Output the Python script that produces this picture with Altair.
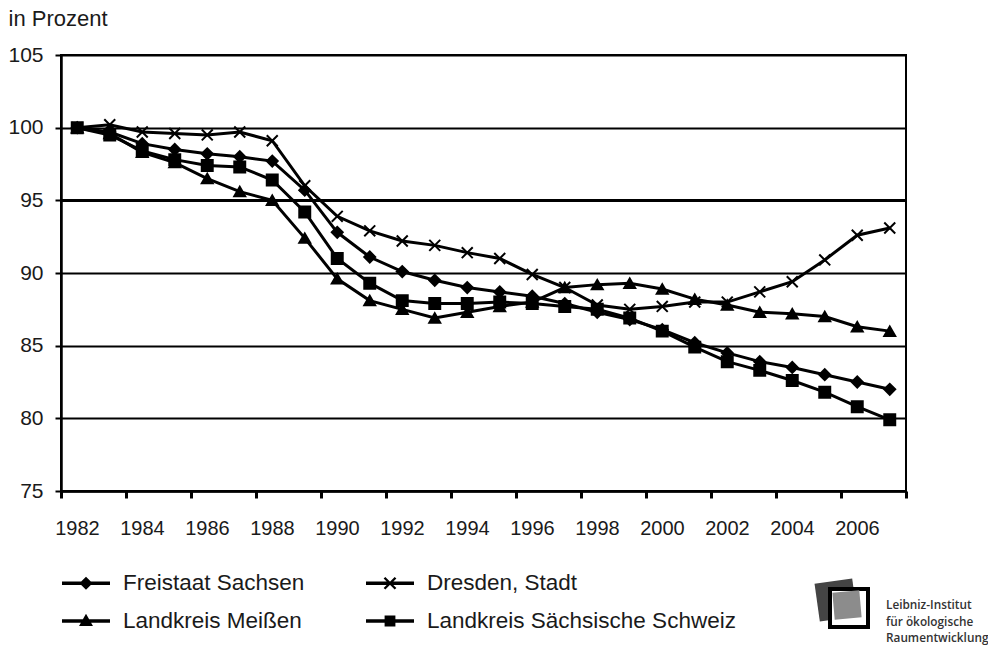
import altair as alt
import pandas as pd

years = list(range(1982, 2008))
series = ["Freistaat Sachsen", "Dresden, Stadt", "Landkreis Meißen", "Landkreis Sächsische Schweiz"]
legend_order = ["Freistaat Sachsen", "Landkreis Meißen", "Dresden, Stadt", "Landkreis Sächsische Schweiz"]

freistaat = [100, 99.7, 98.9, 98.5, 98.2, 98.0, 97.7, 95.7, 92.8, 91.1, 90.1, 89.5, 89.0,
             88.7, 88.4, 87.9, 87.3, 86.8, 86.1, 85.2, 84.5, 83.9, 83.5, 83.0, 82.5, 82.0]
dresden = [100, 100.2, 99.7, 99.6, 99.5, 99.7, 99.1, 96.0, 93.9, 92.9, 92.2, 91.9, 91.4,
           91.0, 89.9, 89.0, 87.8, 87.5, 87.7, 88.0, 88.0, 88.7, 89.4, 90.9, 92.6, 93.1]
meissen = [100, 99.6, 98.3, 97.6, 96.5, 95.6, 95.0, 92.4, 89.6, 88.1, 87.5, 86.9, 87.3,
           87.7, 88.0, 89.0, 89.2, 89.3, 88.9, 88.2, 87.8, 87.3, 87.2, 87.0, 86.3, 86.0]
schweiz = [100, 99.5, 98.4, 97.8, 97.4, 97.3, 96.4, 94.2, 91.0, 89.3, 88.1, 87.9, 87.9,
           88.0, 87.9, 87.7, 87.5, 86.9, 86.0, 84.9, 83.9, 83.3, 82.6, 81.8, 80.8, 79.9]

y_ticks = [75, 80, 85, 90, 95, 100, 105]
x_tick_values = [1981.5 + 2 * i for i in range(14)]  # band boundaries, every 2 years
logo_text_lines = "Leibniz-Institut\nfür ökologische\nRaumentwicklung"

rows = []
for name, vals in zip(series, [freistaat, dresden, meissen, schweiz]):
    for yr, v in zip(years, vals):
        rows.append({"year": yr, "series": name, "value": v})
df = pd.DataFrame(rows)

FONT = "Liberation Sans"
TXT = "#1a1a1a"

x_enc = alt.X(
    "year:Q",
    scale=alt.Scale(domain=[1981.5, 2007.5], nice=False, zero=False),
    axis=alt.Axis(
        values=x_tick_values,
        labelExpr="datum.value > 2007 ? '' : format(datum.value + 0.5, 'd')",
        labelOffset=16, labelFlush=False, labelOverlap=False,
        labelFont=FONT, labelFontSize=20, labelColor=TXT, labelPadding=20,
        tickSize=7, tickWidth=3, tickColor="black",
        domainColor="black", domainWidth=2.5,
        grid=False, title=None, orient="bottom",
    ),
)
y_enc = alt.Y(
    "value:Q",
    scale=alt.Scale(domain=[75, 105], nice=False, zero=False),
    axis=alt.Axis(
        values=y_ticks,
        labelFont=FONT, labelFontSize=21, labelColor=TXT, labelPadding=12,
        tickSize=6, tickWidth=2, tickColor="black",
        domainColor="black", domainWidth=2.5,
        grid=True, gridColor="black",
        gridWidth={"condition": {"test": "datum.value === 95", "value": 3}, "value": 2},
        title="in Prozent", titleFont=FONT, titleFontSize=22, titleColor=TXT,
        titleFontWeight="normal", titleAngle=0, titleAlign="left",
        titleBaseline="middle", titleX=-53, titleY=-37,
    ),
)

base = alt.Chart(df)

lines = base.mark_line(color="black", strokeWidth=3).encode(
    x=x_enc, y=y_enc, detail="series:N", order="year:Q"
)

xpath = "M-1,-1L1,1M-1,1L1,-1"
points = base.mark_point(filled=True, fill="black", stroke="black", strokeWidth=2, opacity=1, size=120).encode(
    x="year:Q", y="value:Q",
    shape=alt.Shape("series:N", scale=alt.Scale(domain=series,
                    range=["diamond", xpath, "triangle-up", "square"]), legend=None),
)

# legend symbols: filled polygons (line segment + marker), same winding everywhere
LINE = "M-3,-0.15H1V0.15H-3Z"
DIAMOND = LINE + "M-1,-0.55L-0.45,0L-1,0.55L-1.55,0Z"
XMARK = (LINE + "M-1.53,-0.39L-1.39,-0.53L-0.47,0.39L-0.61,0.53Z"
         + "M-1.53,0.39L-0.61,-0.53L-0.47,-0.39L-1.39,0.53Z")
TRIANGLE = LINE + "M-1,-0.6L-0.42,0.42H-1.58Z"
SQUARE = LINE + "M-1.45,-0.45H-0.55V0.45H-1.45Z"
legend_paths = [DIAMOND, TRIANGLE, XMARK, SQUARE]  # in legend_order

legend_layer = base.mark_point(filled=True, fill="black", strokeWidth=0, opacity=0).encode(
    x="year:Q", y="value:Q",
    shape=alt.Shape("series:N", scale=alt.Scale(domain=legend_order, range=legend_paths),
                    legend=alt.Legend(
                        title=None, orient="none", legendX=25, legendY=516,
                        columns=2, columnPadding=61, rowPadding=14,
                        symbolSize=576, symbolStrokeWidth=0,
                        symbolFillColor="black", symbolOpacity=1,
                        labelFont=FONT, labelFontSize=22.5, labelColor=TXT, labelOffset=13,
                        padding=0, labelLimit=400,
                    )),
)

one = pd.DataFrame({"k": [0]})
logo_dark = alt.Chart(one).mark_point(shape="square", filled=True, color="#444444", size=1444, angle=352, opacity=1).encode(
    x=alt.value(775), y=alt.value(545))
logo_box = alt.Chart(one).mark_rect(fill="white", stroke="black", strokeWidth=4).encode(
    x=alt.value(769), x2=alt.value(807), y=alt.value(534), y2=alt.value(572))
logo_gray = alt.Chart(one).mark_point(shape="square", filled=True, color="#8c8c8c", size=729, angle=355, opacity=1).encode(
    x=alt.value(786), y=alt.value(550))
logo_text = alt.Chart(pd.DataFrame({"t": [logo_text_lines]})).mark_text(
    align="left", baseline="middle", font="Open Sans", fontSize=11.8, fontWeight=600,
    color="#333333", lineBreak="\n", lineHeight=16.5,
).encode(x=alt.value(825), y=alt.value(550), text="t:N")

chart = alt.layer(lines, points, legend_layer, logo_dark, logo_box, logo_gray, logo_text).resolve_scale(
    shape="independent"
).properties(
    width=845, height=436,
    autosize=alt.AutoSizeParams(type="none"),
    padding={"left": 53, "top": 47, "right": 82, "bottom": 155},
).configure_view(stroke="black", strokeWidth=2)

chart.save("out.html", embed_options={"renderer": "svg", "actions": False})
